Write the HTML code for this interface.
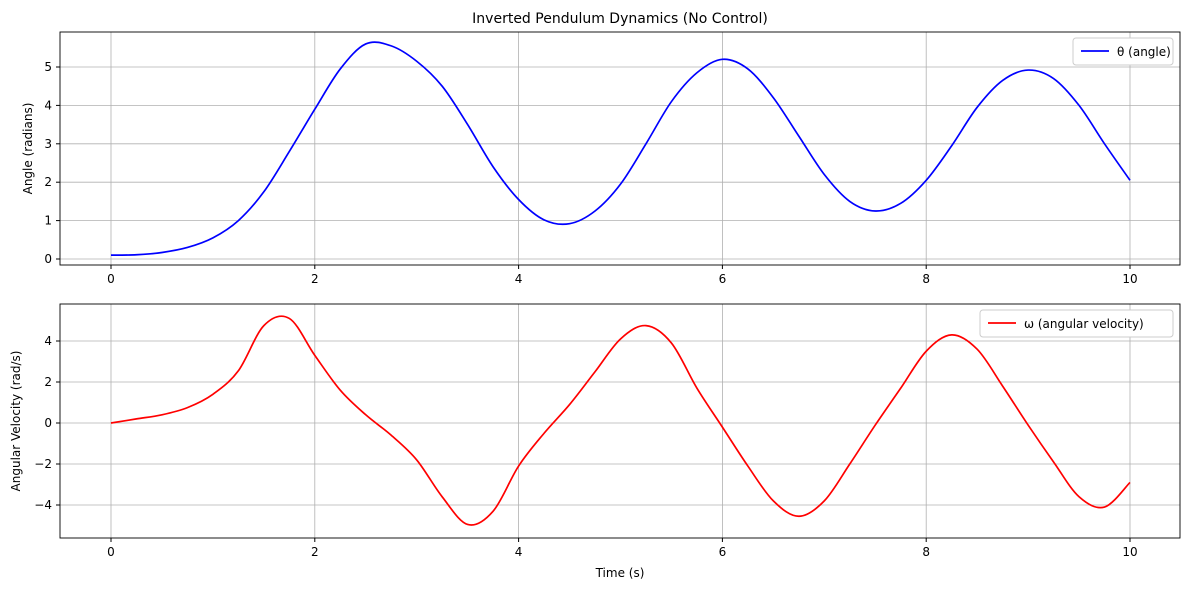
<!DOCTYPE html>
<html><head><meta charset="utf-8"><style>
body{margin:0;background:#fff;font-family:"Liberation Sans","DejaVu Sans",sans-serif}
svg text{font-family:"DejaVu Sans","Liberation Sans",sans-serif;fill:#000}
</style></head><body>
<svg id="c" width="1189" height="590" xmlns="http://www.w3.org/2000/svg"></svg>
<script>
const timeTheta=[0,0.25,0.5,0.75,1,1.25,1.5,1.75,2,2.25,2.5,2.75,3,3.25,3.5,3.75,4,4.25,4.5,4.75,5,5.25,5.5,5.75,6,6.25,6.5,6.75,7,7.25,7.5,7.75,8,8.25,8.5,8.75,9,9.25,9.5,9.75,10];
const thetaVals=[0.1,0.11,0.17,0.3,0.55,1.0,1.75,2.8,3.9,4.95,5.6,5.55,5.15,4.5,3.5,2.4,1.55,1.02,0.92,1.25,1.95,3.0,4.1,4.85,5.2,4.95,4.2,3.2,2.2,1.5,1.25,1.45,2.05,2.95,3.95,4.65,4.92,4.7,4.0,3.0,2.05];
const timeOmega=[0,0.25,0.5,0.75,1,1.25,1.5,1.75,2,2.25,2.5,2.75,3,3.25,3.5,3.75,4,4.25,4.5,4.75,5,5.25,5.5,5.75,6,6.25,6.5,6.75,7,7.25,7.5,7.75,8,8.25,8.5,8.75,9,9.25,9.5,9.75,10];
const omegaVals=[0,0.2,0.4,0.75,1.4,2.55,4.75,5.1,3.3,1.6,0.4,-0.6,-1.8,-3.6,-4.95,-4.3,-2.1,-0.5,0.9,2.5,4.1,4.75,3.9,1.7,-0.2,-2.1,-3.8,-4.55,-3.8,-2.0,-0.1,1.7,3.5,4.3,3.6,1.8,-0.1,-1.9,-3.6,-4.1,-2.9];
const xTicks=[0,2,4,6,8,10];
const thetaTicks=[0,1,2,3,4,5];
const omegaTicks=[-4,-2,0,2,4];

const svg=document.getElementById('c');const NS='http://www.w3.org/2000/svg';
function mk(t,a,p){const e=document.createElementNS(NS,t);for(const k in a)e.setAttribute(k,a[k]);(p||svg).appendChild(e);return e;}
const X=t=>111+t*101.9;
function panel(top,bot,yMap,yTicks,tx,vals,color,ylabel,legend,lw,name){
  const g=mk('g',{});
  
  
  xTicks.forEach(t=>{const l=mk('line',{x1:X(t),x2:X(t),y1:top,y2:bot,stroke:'#b0b0b0','stroke-width':0.8},g);
    
    mk('line',{x1:X(t),x2:X(t),y1:bot,y2:bot+4,stroke:'#000'},g);
    const tt=mk('text',{x:X(t),y:bot+18,'text-anchor':'middle','font-size':12},g);tt.textContent=t;
    });
  yTicks.forEach(v=>{const y=yMap(v);mk('line',{x1:60,x2:1180,y1:y,y2:y,stroke:'#b0b0b0','stroke-width':0.8},g);
    mk('line',{x1:56,x2:60,y1:y,y2:y,stroke:'#000'},g);
    const tt=mk('text',{x:52,y:y+4,'text-anchor':'end','font-size':12},g);tt.textContent=v<0?'\u2212'+(-v):v;
    });
  const P=tx.map((t,i)=>[X(t),yMap(vals[i])]);
  let d='M'+P[0][0]+','+P[0][1];
  for(let i=0;i<P.length-1;i++){const p0=P[i-1]||P[i],p1=P[i],p2=P[i+1],p3=P[i+2]||P[i+1];
    d+=' C'+(p1[0]+(p2[0]-p0[0])/6)+','+(p1[1]+(p2[1]-p0[1])/6)+' '+(p2[0]-(p3[0]-p1[0])/6)+','+(p2[1]-(p3[1]-p1[1])/6)+' '+p2[0]+','+p2[1];}
  const path=mk('path',{d:d,fill:'none',stroke:color,'stroke-width':1.7},g);
  
  mk('rect',{x:60,y:top,width:1120,height:bot-top,fill:'none',stroke:'#000','stroke-width':0.9},g);
  const yl=mk('text',{x:0,y:0,'text-anchor':'middle','font-size':12,transform:`translate(${name==='angle-panel'?32:20},${(top+bot)/2}) rotate(-90)`},g);yl.textContent=ylabel;
  
  const lg=mk('g',{},g);
  mk('rect',{x:1173-lw,y:top+6,width:lw,height:27,rx:3,fill:'#fff',stroke:'#ccc'},lg);
  mk('line',{x1:1173-lw+8,x2:1173-lw+36,y1:top+19,y2:top+19,stroke:color,'stroke-width':1.7},lg);
  const lt=mk('text',{x:1173-lw+44,y:top+24,'font-size':12},lg);lt.textContent=legend;
}
panel(32,265,v=>259-v*38.4,thetaTicks,timeTheta,thetaVals,'#0000ff','Angle (radians)','θ (angle)',100,'angle-panel');
panel(304,538,v=>423-v*20.5,omegaTicks,timeOmega,omegaVals,'#ff0000','Angular Velocity (rad/s)','ω (angular velocity)',193,'velocity-panel');
const t1=mk('text',{x:620,y:23,'text-anchor':'middle','font-size':14});t1.textContent='Inverted Pendulum Dynamics (No Control)';

const t2=mk('text',{x:620,y:577,'text-anchor':'middle','font-size':12});t2.textContent='Time (s)';

</script></body></html>
